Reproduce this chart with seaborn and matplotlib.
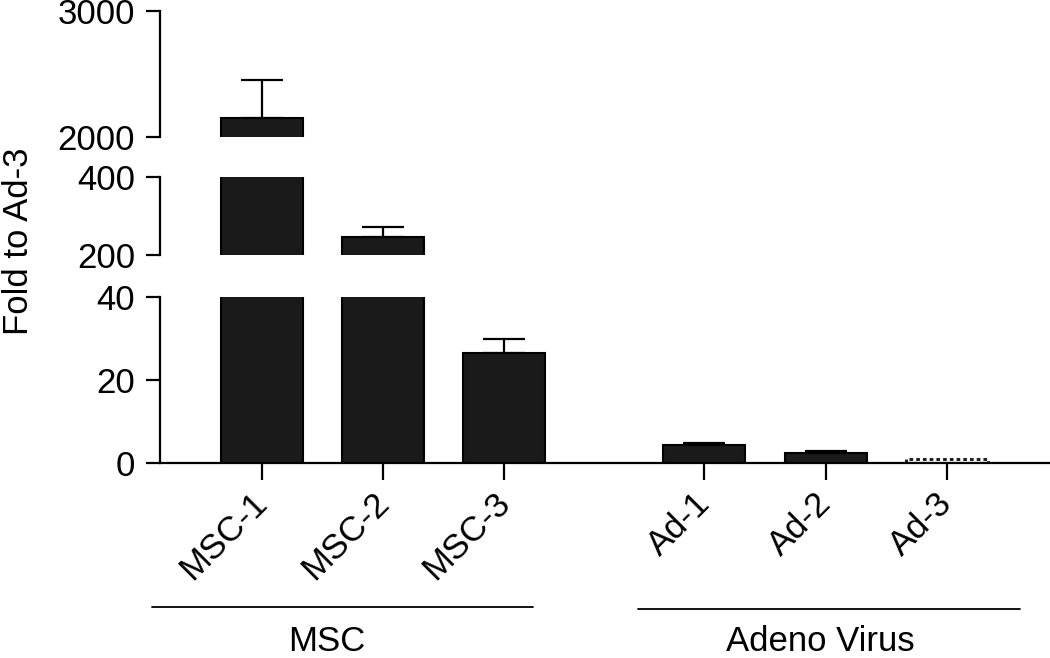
import numpy as np
import seaborn as sns
import matplotlib.pyplot as plt
import matplotlib.transforms as mtransforms
from matplotlib.lines import Line2D

# values
samples = ["MSC-1", "MSC-2", "MSC-3", "Ad-1", "Ad-2", "Ad-3"]
groups = ["MSC", "MSC", "MSC", "Adeno Virus", "Adeno Virus", "Adeno Virus"]
fold = [2150, 247, 26.5, 4.3, 2.45, 1.0]
sem = [300, 24, 3.3, 0.5, 0.5, 0.0]

# broken y axis: (limits, ticks) for bottom, middle, top panel
seg_lims = [(0, 40), (200, 400), (2000, 3000)]
seg_ticks = [[0, 20, 40], [200, 400], [2000, 3000]]
seg_px = [(297, 463), (177, 255), (11, 137)]  # top/bottom pixel of each panel

sns.set_style("ticks")
plt.rcParams["font.family"] = ["Liberation Sans", "DejaVu Sans"]
plt.rcParams["text.color"] = "black"
plt.rcParams["xtick.color"] = "black"
plt.rcParams["ytick.color"] = "black"
FS = 25

W, H = 1050, 658
fig = plt.figure(figsize=(W / 100, H / 100), dpi=100)

# bar positions: gap between the two groups
group_names = list(dict.fromkeys(groups))
x_pos = []
for i, g in enumerate(groups):
    x_pos.append(i + 0.65 * group_names.index(g))
x_pos = np.array(x_pos)
fold = np.array(fold)
sem = np.array(sem)

left_px, right_px = 160, 1050
xlim = (-0.84, 6.5)

axes = []
for (lo, hi), ticks, (top, bot) in zip(seg_lims, seg_ticks, seg_px):
    ax = fig.add_axes([left_px / W, 1 - bot / H, (right_px - left_px) / W, (bot - top) / H])
    sns.barplot(x=x_pos, y=fold, ax=ax, native_scale=True, width=0.676,
                color="#1a1a1a", edgecolor="black", linewidth=1.5, errorbar=None,
                saturation=1)
    # Ad-3 is the reference: open bar with dashed outline
    p = ax.patches[-1]
    p.set_facecolor("white")
    p.set_linewidth(2.2)
    p.set_linestyle((0, (1.2, 1.0)))
    p.set_edgecolor("#222222")
    mask = sem > 0
    ax.errorbar(x_pos[mask], fold[mask], yerr=[np.zeros(mask.sum()), sem[mask]],
                fmt="none", ecolor="black", elinewidth=1.6, capsize=15, capthick=1.6)
    ax.set_ylim(lo, hi)
    ax.set_xlim(*xlim)
    ax.set_yticks(ticks)
    ax.set_yticklabels([str(t) for t in ticks])
    ax.spines["left"].set_bounds(lo, hi)
    ax.spines["left"].set_linewidth(1.6)
    ax.spines["left"].set_color("black")
    ax.spines["right"].set_visible(False)
    ax.spines["top"].set_visible(False)
    ax.tick_params(axis="y", length=10, width=1.6, pad=8, labelsize=FS)
    ax.set_facecolor("none")
    axes.append(ax)

bottom_ax = axes[0]
for ax in axes[1:]:
    ax.spines["bottom"].set_visible(False)
    ax.tick_params(axis="x", bottom=False, labelbottom=False)
    ax.set_xlabel("")

bottom_ax.spines["bottom"].set_linewidth(1.6)
bottom_ax.spines["bottom"].set_color("black")
bottom_ax.set_xticks(x_pos)
bottom_ax.set_xticklabels(samples, rotation=45, ha="right", rotation_mode="default")
bottom_ax.tick_params(axis="x", length=12, width=1.6, pad=5, labelsize=FS)
bottom_ax.set_xlabel("")
shift = mtransforms.ScaledTranslation(12 / 100, 0, fig.dpi_scale_trans)
for lab in bottom_ax.get_xticklabels():
    lab.set_transform(lab.get_transform() + shift)

# group brackets and labels
fig.add_artist(Line2D([152 / W, 533 / W], [1 - 607 / H, 1 - 607 / H],
                      color="black", lw=1.3))
fig.add_artist(Line2D([638 / W, 1020 / W], [1 - 609 / H, 1 - 609 / H],
                      color="black", lw=1.3))
fig.text(327 / W, 0.0, group_names[0], ha="center", va="bottom", fontsize=FS)
fig.text(820 / W, 0.0, group_names[1], ha="center", va="bottom", fontsize=FS)

fig.text(19 / W, 1 - 241 / H, "Fold to Ad-3", rotation=90, ha="center", va="center",
         fontsize=FS)

fig.savefig("out.png", dpi=100)
